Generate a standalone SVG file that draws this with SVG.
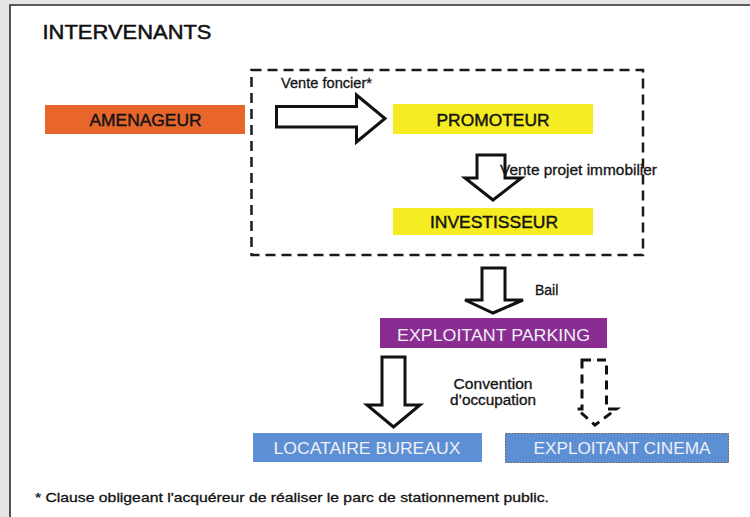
<svg xmlns="http://www.w3.org/2000/svg" width="750" height="517" viewBox="0 0 750 517">
<style>
text{font-family:"Liberation Sans",Arial,sans-serif}
.lbl{font-size:17px;text-anchor:middle}
.dark{fill:#141414;stroke:#141414;stroke-width:0.45}
.light{fill:#eef1f6}
.small{font-size:14px;fill:#141414;stroke:#141414;stroke-width:0.3}
.arr{fill:#fff;stroke:#111;stroke-width:3;stroke-linejoin:miter}
.arrd{fill:#fff;stroke:#111;stroke-width:3;stroke-dasharray:9 6}
</style>
<rect width="750" height="517" fill="#e6e6e8"/>
<rect x="10" y="5" width="750" height="520" fill="#fff"/>
<path d="M10 525 V5 H750" fill="none" stroke="#2a2a2a" stroke-width="1.6"/>
<text x="42.5" y="38.5" font-size="21" fill="#111" stroke="#111" stroke-width="0.5" textLength="169" lengthAdjust="spacingAndGlyphs">INTERVENANTS</text>
<g id="groupe">
<rect x="251.5" y="70" width="391.5" height="185" fill="none" stroke="#1a1a1a" stroke-width="2.5" stroke-dasharray="10 6"/>
</g>
<g id="amenageur">
<rect x="45" y="105" width="200" height="29" fill="#e8662c"/>
<text class="lbl dark" x="145.5" y="126" textLength="112" lengthAdjust="spacingAndGlyphs">AMENAGEUR</text>
</g>
<g id="promoteur">
<rect x="393" y="104" width="200" height="30" fill="#f5ec22"/>
<text class="lbl dark" x="493" y="125.5" textLength="113" lengthAdjust="spacingAndGlyphs">PROMOTEUR</text>
</g>
<g id="investisseur">
<rect x="393" y="208" width="200" height="27" fill="#f5ec22"/>
<text class="lbl dark" x="494" y="227.5" textLength="128" lengthAdjust="spacingAndGlyphs">INVESTISSEUR</text>
</g>
<g id="exploitant-parking">
<rect x="380" y="318" width="227" height="30" fill="#8b2c92"/>
<text class="lbl light" x="493.5" y="340.5" textLength="193" lengthAdjust="spacingAndGlyphs">EXPLOITANT PARKING</text>
</g>
<g id="locataire-bureaux">
<rect x="253" y="433" width="229" height="29" fill="#5d8fd5"/>
<text class="lbl light" x="367" y="453.5" textLength="187" lengthAdjust="spacingAndGlyphs">LOCATAIRE BUREAUX</text>
</g>
<g id="exploitant-cinema">
<rect x="505.5" y="433.5" width="223" height="29" fill="#5d8fd5" stroke="#555a66" stroke-width="1" stroke-dasharray="2 1"/>
<text class="lbl light" x="622" y="453.5" textLength="177" lengthAdjust="spacingAndGlyphs">EXPLOITANT CINEMA</text>
</g>
<g id="connecteurs">
<path class="arr" d="M276.5 106.5 H356.5 V95 L385 118.5 L356.5 142 V127 H276.5 Z"/>
<text class="small" x="281" y="88" textLength="91" lengthAdjust="spacingAndGlyphs">Vente foncier*</text>
<path class="arr" d="M477 155 H505 V178 H521.5 L493 200 L465 178 H477 Z"/>
<text class="small" x="500" y="175" textLength="157" lengthAdjust="spacingAndGlyphs">Vente projet immobilier</text>
<path class="arr" d="M482 268 H505 V300 H523 L493 313 L465 300 H482 Z"/>
<text class="small" x="535" y="295">Bail</text>
<path class="arr" d="M382 357 H405 V405 H420 L393.5 427 L367 405 H382 Z"/>
<text class="small" x="493" y="389" text-anchor="middle" textLength="79" lengthAdjust="spacingAndGlyphs">Convention</text>
<text class="small" x="493" y="405" text-anchor="middle" textLength="86" lengthAdjust="spacingAndGlyphs">d’occupation</text>
<path class="arrd" d="M582 360 H606.5 V409 H616.5 L595 425 L577 409 H582 Z"/>
</g>
<text x="35" y="502" font-size="13.5" fill="#111" stroke="#111" stroke-width="0.3" textLength="514" lengthAdjust="spacingAndGlyphs">* Clause obligeant l'acquéreur de réaliser le parc de stationnement public.</text>
</svg>
